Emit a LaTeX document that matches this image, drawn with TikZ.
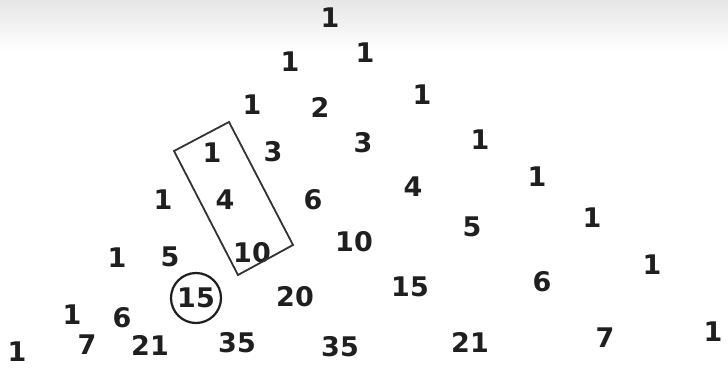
\documentclass[tikz,border=0pt]{standalone}
\usepackage{fontspec}
\setmainfont{DejaVu Sans}
\usetikzlibrary{shapes.geometric}
\tikzset{
  num/.style  = {font=\fontsize{27}{27}\selectfont\bfseries, inner sep=1pt, text=black!88},
  ring/.style = {draw=black!88, line width=2.2pt, circle, minimum size=50pt},
  stick/.style = {draw=black!80, line width=1.8pt}
}

\begin{document}
\begin{tikzpicture}[x=1pt, y=-1pt]
\useasboundingbox (0,0) rectangle (728,387);
% ---- paper ----
\fill[white] (0,0) rectangle (728,387);
\fill[top color=black!10, bottom color=white] (0,0) rectangle (728,50);

% ---- Pascal rows (x / y / name / value) ----
\foreach \px/\py/\name/\val in {%
  330/18/a00/1,
  290/62/a10/1, 365/53/a11/1,
  252/105/a20/1, 320/107/a21/2, 422/95/a22/1,
  212/153/a30/1, 273/152/a31/3, 363/143/a32/3, 480/140/a33/1,
  163/200/a40/1, 225/200/a41/4, 313/200/a42/6, 413/187/a43/4, 537/177/a44/1,
  117/258/a50/1, 170/257/a51/5, 252/253/a52/10, 354/242/a53/10, 472/227/a54/5, 592/218/a55/1,
  72/315/a60/1, 122/318/a61/6, 295/297/a63/20, 410/287/a64/15, 542/282/a65/6, 652/265/a66/1,
  17/352/a70/1, 87/345/a71/7, 150/345/a72/21, 237/343/a73/35, 340/347/a74/35, 470/342/a75/21, 605/338/a76/7, 713/332/a77/1} {
  \node[num] (\name) at (\px,\py) {\val};
}
% circled sum
\node[num, ring] (a62) at (196,298) {15};

% ---- hockey stick box round 1, 4, 10 ----
\draw[stick] (174,151) -- (229,122) -- (293,245) -- (238,275) -- cycle;
\end{tikzpicture}
\end{document}
